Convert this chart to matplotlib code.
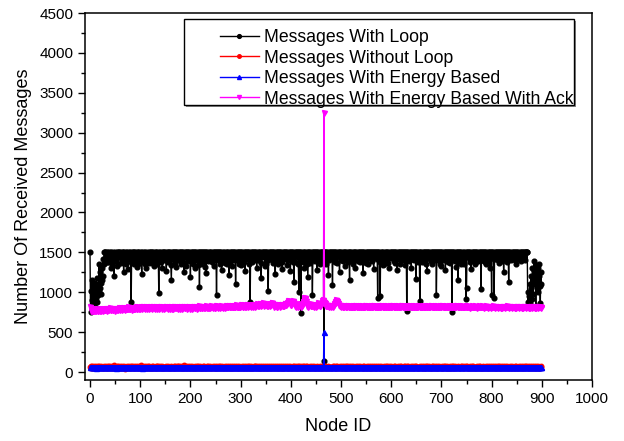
import matplotlib
matplotlib.use("Agg")
import matplotlib.pyplot as plt
from matplotlib.patches import Rectangle
from matplotlib.ticker import MultipleLocator
import numpy as np

plt.rcParams['font.family'] = ['Liberation Sans', 'DejaVu Sans']

labels = ["Messages With Loop", "Messages Without Loop",
          "Messages With Energy Based", "Messages With Energy Based With Ack"]

with_loop = [
 1500,750,1010,1150,900,1080,870,960,1120,820,1000,1050,930,1180,880,1100,960,1010,1350,1050,1250,980,1120,1300,1150,1200,1420,1350,1500,1500,
 1500,1460,1420,1500,1380,1500,1380,1470,1450,1500,1410,1300,1500,1440,1350,1460,1500,1390,1200,1500,1470,1420,1400,1500,1330,1350,1500,1450,1500,1480,
 1500,1430,1370,1500,1460,1390,1500,1250,1500,1410,1440,1500,1350,1470,1500,1290,1420,1500,1460,1480,1500,1380,880,1500,1440,1500,1410,1360,1500,1470,
 1500,1390,1460,1500,1320,1500,1350,1430,1500,1470,1400,1500,1450,1230,1500,1380,1470,1500,1420,1360,1500,1440,1300,1500,1480,1410,1460,1500,1370,1500,
 1450,1500,1410,1370,1500,1460,1500,1330,1480,1500,1400,1500,1450,1350,1500,1470,1420,990,1500,1440,1500,1380,1460,1500,1310,1500,1450,1440,1500,1400,
 1500,1460,1270,1500,1430,1500,1380,1400,1500,1470,1500,1340,1150,1500,1450,1500,1460,1410,1500,1370,1500,1320,1500,1460,1500,1400,1430,1500,1480,1500,
 1420,1350,1500,1460,1500,1380,1500,1250,1440,1500,1470,1500,1330,1500,1460,1390,1500,1420,1500,1480,1190,1500,1410,1500,1440,1500,1360,1470,1500,1300,
 1500,1450,1500,1410,1470,1500,1340,1500,1060,1500,1430,1500,1360,1480,1500,1400,1500,1460,1500,1320,1500,1240,1500,1450,1500,1470,1390,1500,1420,1500,
 1460,1500,1440,1380,1500,1470,1500,1330,1500,1410,1500,1460,960,1500,1430,1500,1410,1500,1350,1500,1470,1500,1280,1440,1500,1400,1450,1500,1480,1370,
 1500,1420,1360,1500,1470,1500,1440,1210,1500,1380,1500,1470,1500,1330,1460,1500,1400,1500,1450,1500,1100,1470,1500,1410,1500,1430,1500,1360,1500,1460,
 1340,1500,1450,1500,1410,1460,1500,1380,1500,1260,1500,1470,1500,1430,1420,1500,1350,1500,1460,880,1500,1440,1500,1380,1500,1470,1410,1500,1470,1500,
 1450,1500,1300,1470,1500,1400,1500,1410,1460,1500,1370,1180,1500,1440,1500,1480,1450,1500,1330,1500,1350,1500,1460,1500,1410,1020,1500,1470,1500,1440,
 1500,1420,1500,1460,1370,1500,1440,1500,1390,1230,1500,1470,1500,1460,1350,1500,1420,1500,1390,1500,1460,1500,1380,1290,1500,1450,1500,1420,1480,1500,
 1460,1500,1340,1500,1430,1410,1500,1470,1500,1260,1400,1500,1450,1500,1380,1500,1130,1460,1500,1380,1500,1440,1500,1470,1500,1350,1000,1500,1420,1500,
 740,1500,1460,1420,1500,1380,1500,1310,1470,1500,1420,1450,1500,1360,1190,1500,1440,1500,1370,1500,1460,1410,1500,960,1500,1470,1500,1430,1500,1390,
 1500,1450,1280,1500,1420,1500,1470,1400,1500,1360,1500,1440,1460,1500,1390,1500,140,1500,1460,1500,1350,1500,1430,1500,1470,1210,1500,1410,1500,1440,
 1500,1460,1500,1090,1500,1420,1500,1470,1380,1500,1440,1500,1460,1370,1500,1480,1500,1250,1500,1410,1500,1420,1460,1500,1390,1500,1470,1330,1500,1450,
 1500,1410,1470,1500,1380,1500,1460,1150,1500,1430,1500,1470,1400,1500,1350,1500,1460,1500,1300,1470,1500,1420,1450,1500,1390,1500,1470,1500,1380,1500,
 1460,1500,1420,1500,1240,1480,1500,1410,1460,1500,1370,1500,1450,1500,1350,1500,1470,1430,1500,1420,1500,1390,1500,1460,1500,1290,1500,1440,1500,1470,
 1500,1420,1500,930,1500,1460,1500,1380,950,1500,1470,1420,1500,1340,1500,1450,1360,1500,1480,1500,1410,1460,1500,1370,1500,1440,1310,1500,1460,1500,
 1430,1440,1500,1470,1500,1390,1500,1370,1500,1460,1500,1420,1280,1500,1450,1500,1460,1500,1360,1500,1470,1500,1400,1500,1430,1500,1470,1340,1500,1410,
 1500,770,1500,1460,1500,1450,1390,1500,1470,1500,1300,1500,1440,1500,1420,1410,1500,1470,1500,1160,1500,1430,1500,1380,1470,1500,1450,890,1500,1460,
 1500,1420,1380,1500,1470,1500,1410,1440,1500,1350,1500,1260,1500,1460,1500,1430,1500,1420,1480,1500,1390,1500,1350,1500,1460,1500,1470,1500,1400,1500,
 960,1500,1450,1500,1400,1470,1500,1360,1500,1330,1500,1450,1500,1460,1410,1500,1470,1500,1280,1500,1440,1500,1420,1500,1380,1500,1460,1500,1370,1500,
 1460,750,1500,1430,1500,1450,1500,1390,1470,1500,1320,1500,1480,1150,1500,1440,1500,1410,1500,1360,1500,1470,1460,1500,1420,1360,1500,1450,1500,910,
 1050,1500,1460,1500,1430,1500,1380,1500,1470,1290,1500,1440,1500,1410,1470,1500,1350,1500,1380,1500,1460,1500,1420,1440,1500,1470,1500,1390,1500,1040,
 1500,1450,1500,1410,1470,1500,1380,1500,1350,1500,1430,1460,1500,1400,1500,1470,1300,1500,1440,1500,960,1500,1460,1500,1420,930,1500,1470,1500,1420,
 1460,1500,1410,1500,1370,1500,1470,1500,1460,1500,1390,1500,1440,1500,1250,1500,1470,1500,1430,1500,1380,1500,1460,1500,1130,1500,1420,1500,1470,1400,
 1500,1440,1500,1470,1460,1500,1400,1500,1350,1500,1460,1500,1420,1500,1480,1420,1500,1450,1500,1390,1500,1470,1500,1440,1500,1460,1500,1410,1500,1500,
 1500,1500,880,1000,820,950,1100,870,1200,1050,920,1300,1150,980,1280,1390,1100,1250,830,1340,1180,1060,1300,1000,1200,1350,1080,870,1250,1100,
]

without_loop = [
 60,45,72,55,80,50,65,58,75,48,62,70,52,68,57,78,46,63,71,54,66,59,74,49,61,69,53,77,56,64,
 58,73,47,66,55,79,51,62,70,45,67,59,76,53,64,48,71,57,82,50,63,68,46,74,56,61,78,52,65,49,
 70,54,63,47,77,59,66,50,73,57,44,69,61,80,52,65,58,72,46,67,55,75,49,62,71,53,64,79,48,60,
 52,68,75,56,61,45,74,63,50,71,58,83,47,65,54,69,60,48,76,57,66,51,73,59,45,70,62,55,78,50,
 66,49,58,72,53,79,46,64,68,55,61,47,75,52,70,59,81,50,63,57,72,45,67,54,76,60,48,69,56,62,
 57,74,50,63,69,48,77,55,60,66,52,73,45,68,58,62,49,79,54,71,47,65,59,75,51,64,70,46,72,58,
 63,51,76,59,47,70,56,82,53,64,68,49,72,58,46,75,61,55,67,50,78,57,63,48,71,54,66,60,45,73,
 48,67,55,71,62,46,79,58,65,52,74,60,50,69,56,81,47,63,72,54,59,68,45,76,62,51,70,57,64,53,
 71,56,64,49,75,60,52,68,47,77,55,63,70,46,66,58,73,51,61,80,49,65,57,72,53,68,46,62,75,59,
 55,69,47,78,58,64,50,73,61,56,45,71,66,53,79,48,62,57,74,51,68,60,47,70,55,64,76,50,59,67,
 62,48,72,57,66,51,80,54,63,69,47,75,58,52,70,61,46,77,56,65,49,73,60,54,68,45,71,63,57,76,
 50,74,59,65,46,70,55,62,78,49,67,56,73,60,48,66,53,79,58,63,71,47,64,55,76,52,69,58,45,72,
 67,53,61,76,49,64,58,72,46,68,57,81,51,63,74,55,60,47,70,59,66,50,78,56,62,45,73,54,67,60,
 58,70,46,63,73,55,67,48,76,60,53,69,64,47,72,57,80,52,65,59,45,74,61,56,70,49,66,78,53,62,
 73,57,66,51,62,79,47,70,56,64,72,50,59,77,45,68,61,54,73,48,63,69,55,76,58,66,47,71,60,52,
 46,65,75,59,54,69,62,50,81,57,48,66,71,55,63,52,74,60,45,78,67,56,62,49,73,58,64,51,69,57,
 64,52,68,47,77,58,65,73,49,62,56,70,45,75,59,66,51,72,57,64,48,79,53,68,61,55,74,46,63,70,
 55,76,49,63,58,71,46,67,60,54,79,50,64,57,73,48,69,62,55,76,51,66,59,47,72,63,53,78,58,65,
 69,50,61,74,55,48,72,59,66,52,63,75,47,60,68,56,78,49,65,71,54,62,46,74,57,67,50,61,76,53,
 51,66,72,57,64,47,76,61,53,70,58,45,69,63,55,80,50,67,59,73,48,64,71,56,62,52,77,58,47,69,
 74,58,47,68,62,55,71,50,78,57,65,60,48,74,53,66,61,75,46,63,70,52,67,58,45,72,60,55,79,64,
 56,71,63,50,76,59,45,68,62,73,51,67,58,79,54,62,48,71,57,64,76,50,59,68,54,63,47,74,61,57,
 65,49,77,60,53,67,72,56,46,64,70,59,75,51,61,57,73,45,68,55,62,79,52,66,71,49,64,58,72,50,
 59,73,54,66,48,78,57,63,69,51,60,74,53,67,46,70,64,58,77,50,65,55,72,47,61,68,56,75,52,63,
 47,62,70,55,72,61,50,76,58,65,48,68,57,63,79,52,66,60,49,73,58,71,63,54,67,46,75,59,64,70,
 70,56,64,52,67,47,74,59,66,53,78,61,46,71,58,64,55,69,62,50,76,57,45,66,73,59,52,80,63,56,
 53,68,49,75,61,57,69,46,72,60,55,67,80,56,63,48,74,59,66,54,61,70,58,49,77,62,68,55,47,71,
 66,55,73,58,46,71,62,54,79,49,64,57,70,52,68,61,47,76,59,65,51,72,56,63,48,69,57,74,60,53,
 49,72,60,67,55,63,81,51,58,74,47,66,61,55,73,59,68,50,64,77,56,62,46,71,58,65,53,70,57,75,
 62,58,75,48,69,54,63,71,57,46,76,60,67,52,64,78,55,61,49,73,58,66,51,70,56,63,47,68,59,72,
]

energy_based = [
 62,58,64,60,57,63,61,59,65,58,62,60,56,64,61,59,63,57,60,62,58,65,61,59,63,60,57,62,64,58,
 61,63,59,57,64,60,62,58,61,65,59,62,60,57,63,61,58,64,60,62,59,56,63,61,58,62,65,60,59,63,
 59,62,60,64,58,61,63,57,62,60,59,65,61,58,62,60,63,57,61,64,59,62,58,60,63,61,57,62,60,64,
 63,60,57,62,61,59,64,62,58,60,63,61,59,56,62,64,60,58,63,61,57,62,60,65,59,61,63,58,62,60,
 60,64,62,58,63,57,60,61,64,59,62,58,63,61,60,57,64,62,59,61,63,58,60,62,57,64,61,59,63,60,
 58,61,63,60,59,64,62,57,60,63,61,59,62,64,58,60,61,63,57,62,60,59,64,61,58,63,60,62,59,61,
 64,59,61,63,57,60,62,65,59,61,58,63,60,62,59,64,61,57,63,60,62,58,61,64,60,59,62,57,63,61,
 60,62,58,61,64,59,63,60,57,62,64,61,59,63,60,58,62,61,64,57,60,63,59,62,61,58,64,60,62,59,
 62,57,63,60,61,64,58,62,60,59,63,61,57,64,62,60,59,63,61,58,62,64,60,57,63,61,59,62,60,64,
 59,63,61,58,62,60,64,59,63,61,57,60,62,64,59,61,63,58,60,62,64,59,61,63,57,62,60,58,64,61,
 61,60,64,62,58,63,59,61,62,57,64,60,63,59,61,62,58,64,60,63,59,61,57,62,64,60,58,63,61,59,
 63,58,60,61,64,57,62,63,59,60,62,64,58,61,63,59,62,60,57,64,61,63,59,60,62,58,64,61,60,62,
 58,64,62,59,60,63,61,57,64,62,59,61,63,60,58,62,64,61,59,63,60,57,62,64,59,61,60,63,58,62,
 62,61,59,63,57,62,64,60,61,63,58,62,60,64,61,59,63,57,62,60,64,61,58,63,60,62,59,61,64,60,
 60,63,61,58,64,60,62,59,63,61,64,57,62,60,59,63,61,64,58,62,60,63,59,61,57,64,62,60,63,59,
 61,59,63,62,58,64,60,62,61,59,63,60,57,62,64,61,500,63,59,62,60,64,58,61,63,60,62,59,64,61,
 63,60,58,64,61,59,62,63,57,60,64,62,59,61,63,58,62,60,64,59,61,63,57,62,60,64,59,61,62,58,
 59,62,64,60,63,58,61,59,64,62,60,57,63,61,59,64,60,62,58,63,61,59,64,60,62,57,63,61,59,62,
 62,58,61,63,59,62,64,60,58,63,61,62,59,64,60,57,63,61,62,59,64,60,58,62,63,61,59,60,64,62,
 60,63,59,61,64,60,57,62,63,59,61,64,60,58,62,63,61,59,64,60,62,57,61,63,59,62,64,60,61,58,
 64,61,62,58,60,63,61,64,59,62,57,60,63,61,64,59,62,60,58,63,61,64,59,62,60,57,63,61,62,60,
 58,62,60,64,61,59,63,60,62,64,58,61,63,59,60,62,64,57,61,63,60,59,62,64,58,61,63,60,59,62,
 61,64,58,62,63,60,59,62,61,57,64,63,60,62,59,61,63,64,60,58,62,61,59,63,64,60,62,58,61,63,
 63,59,62,60,58,64,62,61,60,63,59,62,64,57,61,60,62,63,59,64,61,58,62,60,63,61,57,64,62,60,
 59,62,64,61,60,57,63,62,64,59,61,60,62,63,58,64,60,61,62,59,63,60,64,61,57,62,63,59,60,64,
 62,60,59,63,62,61,58,64,60,62,63,59,61,57,63,62,60,64,61,59,62,63,58,60,64,62,61,59,63,60,
 60,63,61,58,64,62,60,59,63,61,57,64,62,60,61,63,59,62,64,60,58,61,63,62,59,60,64,61,62,58,
 64,61,60,62,59,63,61,64,58,62,60,63,61,59,64,57,62,60,63,61,59,64,62,60,58,63,61,62,60,64,
 61,59,63,64,60,58,62,61,63,60,64,59,62,61,57,63,60,64,62,59,61,63,60,58,64,62,59,61,63,60,
 59,62,60,61,63,64,59,62,60,58,63,61,64,60,62,59,61,57,63,62,60,64,61,59,62,63,60,58,61,62,
]

energy_ack = [
 815,790,770,765,775,780,770,760,775,785,770,765,780,790,775,770,760,775,780,770,785,775,765,780,790,775,770,780,785,775,
 780,790,775,770,785,795,780,775,790,800,785,775,780,790,795,780,775,785,790,780,770,785,795,790,780,775,790,800,785,780,
 790,800,795,785,780,790,805,800,790,780,785,795,800,790,785,795,810,800,790,785,795,805,800,790,780,790,800,795,785,790,
 800,810,805,795,790,800,815,805,795,790,800,810,805,795,800,815,820,810,800,795,805,815,810,800,795,800,810,805,795,800,
 810,815,805,795,800,810,820,810,800,795,805,815,810,800,790,800,810,805,795,800,815,820,810,800,795,805,810,800,790,800,
 805,815,820,810,800,795,805,810,800,795,800,810,815,805,795,790,800,815,820,810,800,805,815,810,800,795,805,810,800,795,
 800,810,815,805,795,800,815,820,810,800,805,815,810,800,795,805,815,820,810,800,795,805,810,800,795,800,815,820,810,800,
 805,815,810,800,795,805,820,825,815,805,800,810,815,805,800,810,820,815,805,800,810,820,825,815,805,800,810,815,805,800,
 810,820,825,815,805,810,820,815,805,800,810,825,830,820,810,805,815,820,810,805,815,825,820,810,805,810,820,815,805,810,
 820,830,825,815,810,820,830,825,815,810,815,825,830,820,810,815,825,820,810,815,825,835,830,820,810,815,825,820,815,820,
 830,840,835,825,815,820,830,835,825,815,820,830,840,835,825,820,830,845,840,830,820,825,835,830,820,825,835,840,830,820,
 825,840,850,845,835,825,830,845,855,850,840,830,835,850,860,850,840,830,835,845,855,845,835,825,830,840,850,845,835,830,
 840,855,870,865,850,835,825,820,830,840,835,825,815,820,830,840,845,835,825,820,825,835,845,840,830,825,830,845,855,850,
 845,840,850,865,875,885,890,880,865,850,840,845,860,875,885,880,865,850,835,825,820,830,840,835,825,820,830,845,850,840,
 830,820,825,840,860,880,905,925,930,915,890,860,840,825,820,830,845,855,850,840,830,825,830,840,835,825,820,830,840,835,
 825,820,830,845,855,860,850,840,830,825,835,850,870,895,905,890,3250,880,860,840,830,825,830,835,830,825,820,825,830,825,
 820,825,830,825,820,830,840,850,860,875,890,900,895,880,860,845,835,830,825,820,825,830,825,820,815,820,825,830,825,820,
 815,820,825,830,825,820,815,820,825,820,815,810,815,820,825,820,815,820,825,830,825,820,815,820,825,820,815,820,825,820,
 815,820,825,820,815,810,815,820,825,830,825,820,815,820,825,820,815,810,815,820,825,820,815,820,825,830,825,820,815,820,
 825,820,815,810,815,820,825,820,815,820,825,830,825,820,815,810,815,820,825,820,815,820,825,820,815,810,815,820,825,820,
 815,820,825,830,825,820,815,810,815,820,825,820,815,820,825,820,815,810,815,820,825,830,825,820,815,820,825,820,815,810,
 815,820,825,820,815,820,825,830,825,820,815,810,815,820,825,820,815,820,825,820,815,810,815,820,825,830,825,820,815,820,
 810,815,820,825,820,815,810,815,820,825,820,815,820,825,820,815,810,815,820,825,830,825,820,815,810,815,820,825,820,815,
 820,825,820,815,810,815,820,825,820,815,820,825,830,825,820,815,810,815,820,825,820,815,810,815,820,825,820,815,820,825,
 815,810,815,820,825,820,815,810,815,820,825,830,825,820,815,810,815,820,825,820,815,820,825,820,815,810,815,820,825,820,
 815,820,825,820,815,810,805,810,815,820,825,820,815,810,815,820,825,820,815,810,805,810,815,820,825,820,815,810,815,820,
 825,820,815,810,805,810,815,820,825,820,815,810,805,810,815,820,815,810,805,810,815,820,825,820,815,810,805,810,815,820,
 815,810,805,810,815,820,815,810,805,800,805,810,815,820,815,810,805,810,815,820,825,820,815,810,805,810,815,820,815,810,
 805,810,815,820,815,810,805,800,805,810,815,820,815,810,805,810,815,820,815,810,805,800,805,810,815,820,815,810,805,810,
 815,820,815,810,805,800,805,810,815,810,805,810,815,820,815,810,805,800,805,810,815,810,805,810,815,820,815,810,805,810,
]

node_id = np.arange(len(with_loop))

fig = plt.figure(figsize=(6.24, 4.41), dpi=100)
ax = fig.add_axes([85/624, 1-380/441, (592-85)/624, (380-13)/441])

ax.plot(node_id, with_loop, color='black', lw=1.0, marker='o', ms=3.4, label=labels[0], zorder=3)
ax.plot(node_id, without_loop, color='red', lw=1.0, marker='o', ms=3.2, label=labels[1], zorder=4)
ax.plot(node_id, energy_based, color='blue', lw=1.0, marker='^', ms=3.6, label=labels[2], zorder=5)
ax.plot(node_id, energy_ack, color='magenta', lw=1.0, marker='v', ms=3.6, label=labels[3], zorder=6)

ax.set_xlim(-10, 1000)
ax.set_ylim(-100, 4500)
ax.xaxis.set_major_locator(MultipleLocator(100))
ax.xaxis.set_minor_locator(MultipleLocator(50))
ax.yaxis.set_major_locator(MultipleLocator(500))
ax.yaxis.set_minor_locator(MultipleLocator(250))
ax.tick_params(which='both', direction='out', top=False, right=False, labelsize=11, width=1)
ax.tick_params(which='major', length=5)
ax.tick_params(which='minor', length=3)
for s in ax.spines.values():
    s.set_linewidth(1.1)

ax.set_xlabel("Node ID", fontsize=13, labelpad=8.5)
ax.set_ylabel("Number Of Received Messages", fontsize=13, labelpad=5)

# legend frame with shadow
fig.patches.append(Rectangle((186/624, 1-107/441), 390/624, 86/441, transform=fig.transFigure,
                             facecolor='#888888', edgecolor='none', zorder=9))
fig.patches.append(Rectangle((184/624, 1-105/441), 390/624, 86/441, transform=fig.transFigure,
                             facecolor='white', edgecolor='black', lw=1, zorder=10))
leg = fig.legend(loc='upper left', bbox_to_anchor=(220/624, 1-29/441), frameon=False,
                 fontsize=12.7, handlelength=2.2, handletextpad=0.3, labelspacing=0.2,
                 borderpad=0, borderaxespad=0, markerscale=0.8)
leg.set_zorder(11)

fig.savefig("out.png", dpi=100)
